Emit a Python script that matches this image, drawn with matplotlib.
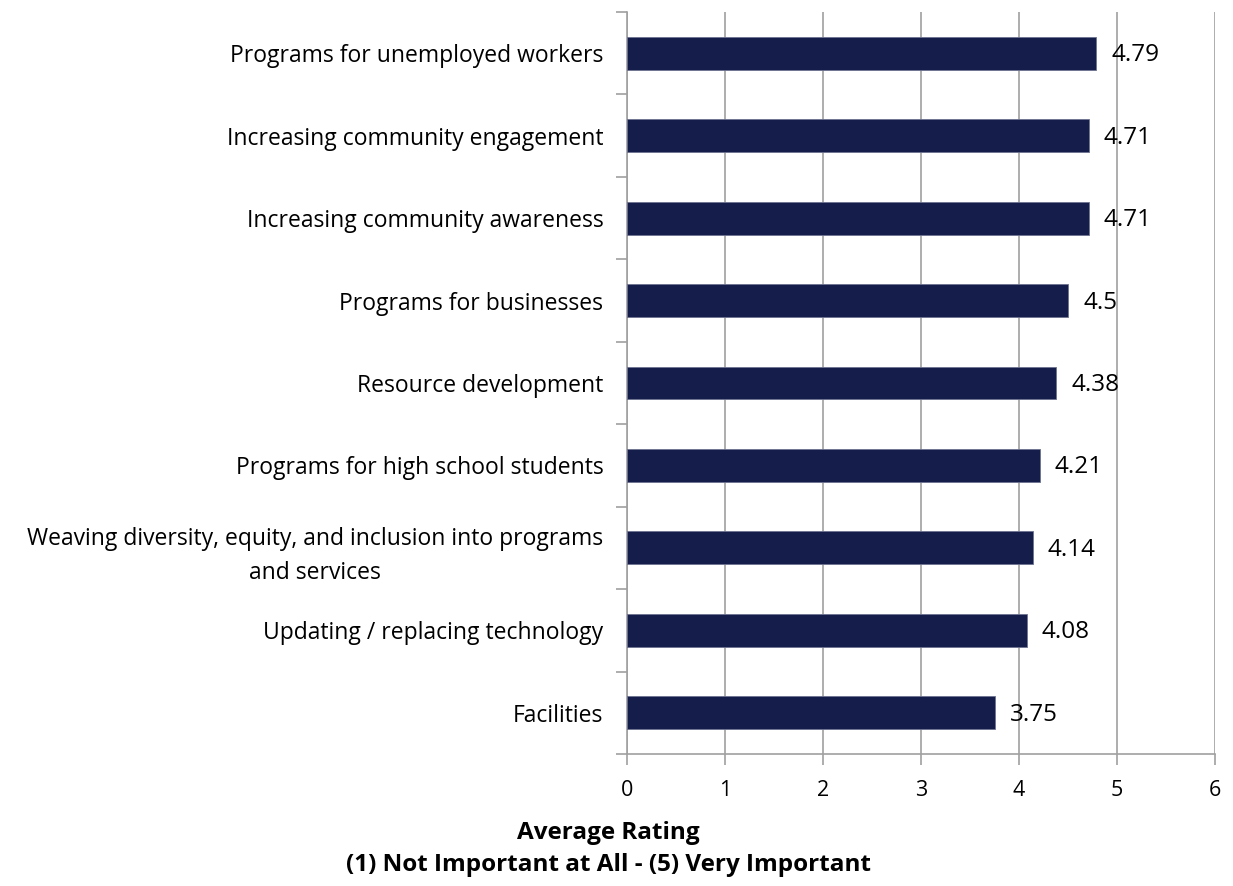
import matplotlib
matplotlib.use("Agg")
import matplotlib.pyplot as plt
from matplotlib.ticker import FixedLocator

plt.rcParams['font.family'] = ['Open Sans', 'DejaVu Sans']

categories = [
    "Programs for unemployed workers",
    "Increasing community engagement",
    "Increasing community awareness",
    "Programs for businesses",
    "Resource development",
    "Programs for high school students",
    "Weaving diversity, equity, and inclusion into programs\nand services",
    "Updating / replacing technology",
    "Facilities",
]
values = [4.79, 4.71, 4.71, 4.5, 4.38, 4.21, 4.14, 4.08, 3.75]
value_labels = ["4.79", "4.71", "4.71", "4.5", "4.38", "4.21", "4.14", "4.08", "3.75"]
x_ticks = [0, 1, 2, 3, 4, 5, 6]
axis_title = "Average Rating\n(1) Not Important at All - (5) Very Important"

W, H = 1233, 886
fig = plt.figure(figsize=(W / 100, H / 100), dpi=100)
ax = fig.add_axes([627 / W, 1 - 754 / H, (1215 - 627) / W, (754 - 12) / H])

n = len(categories)
ypos = list(range(n))[::-1]
ax.barh(ypos, values, height=0.4, color="#151E4B", edgecolor="#6D7390",
        linewidth=0.6, zorder=3)

# value labels just past the end of each bar
for y, v, lab in zip(ypos, values, value_labels):
    ax.annotate(lab, (v, y), xytext=(15, -2), textcoords="offset pixels",
                ha="left", va="center", fontsize=17.5, color="#000000", zorder=4)

ax.set_xlim(0, 6)
ax.set_ylim(-0.5, n - 0.5)
ax.set_xticks(x_ticks)
ax.set_xticklabels([str(t) for t in x_ticks], fontsize=15.5)
ax.set_yticks(ypos)
ax.set_yticklabels(categories, fontsize=16.5, ha="right", multialignment="center",
                   linespacing=1.55)
ax.tick_params(axis="y", which="major", length=0, pad=17)

# category boundary ticks on the value axis
ax.yaxis.set_minor_locator(FixedLocator([i - 0.5 for i in range(n + 1)]))
ax.tick_params(axis="y", which="minor", length=8, color="#A0A0A0", width=1.2, direction="out")
ax.tick_params(axis="x", which="major", length=8, color="#A0A0A0", width=1.2,
               direction="out", pad=11)

ax.grid(axis="x", color="#A0A0A0", linewidth=1.2, zorder=0)
for side in ["top", "right"]:
    ax.spines[side].set_visible(False)
for side in ["left", "bottom"]:
    ax.spines[side].set_color("#A0A0A0")
    ax.spines[side].set_linewidth(1.2)

# axis title, centred under the whole figure
fig.text(608 / W, 1 - 849 / H, axis_title, ha="center", va="center",
         multialignment="center", fontsize=17.5, fontweight="bold", linespacing=1.4)

fig.savefig("out.png", dpi=100)
